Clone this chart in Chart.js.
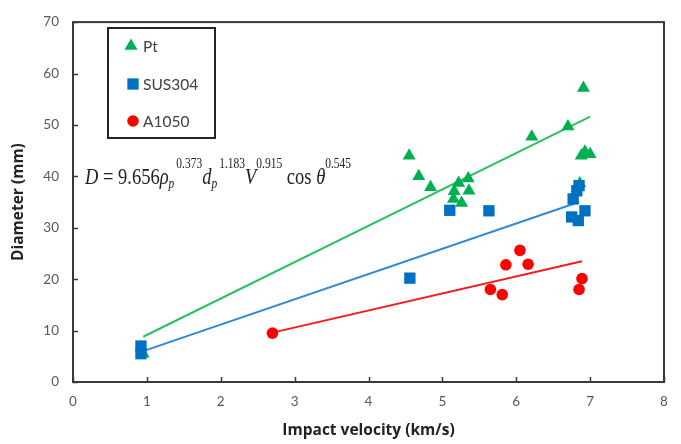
<!DOCTYPE html>
<html>
<head>
<meta charset="utf-8">
<script src="https://cdn.jsdelivr.net/npm/chart.js@4"></script>
<style>
  html, body { margin: 0; padding: 0; background: #fff; }
  #wrap { width: 681px; height: 444px; }
</style>
</head>
<body>
<div id="wrap"><canvas id="chart" width="681" height="444"></canvas></div>
<script>
// values
const ptX = [0.95, 4.55, 4.68, 4.84, 5.22, 5.16, 5.35, 5.36, 5.15, 5.26, 6.21, 6.70, 6.91, 6.88, 6.93, 7.00, 6.86];
const ptY = [5.5, 44.0, 40.0, 37.9, 38.7, 37.1, 39.6, 37.2, 35.6, 34.8, 47.7, 49.7, 57.2, 44.0, 44.8, 44.3, 38.6];

const susX = [0.92, 0.92, 4.56, 5.10, 5.63, 6.85, 6.82, 6.77, 6.93, 6.75, 6.84];
const susY = [7.0, 5.5, 20.2, 33.4, 33.3, 38.2, 37.2, 35.6, 33.3, 32.1, 31.4];

const alX = [2.70, 5.65, 5.81, 5.86, 6.05, 6.16, 6.89, 6.85];
const alY = [9.5, 18.0, 17.0, 22.8, 25.6, 22.9, 20.1, 18.0];

// linear trendline end points
const ptFitX = [0.95, 7.0];
const ptFitY = [8.8, 51.6];
const susFitX = [0.95, 6.85];
const susFitY = [6.0, 35.0];
const alFitX = [2.7, 6.89];
const alFitY = [9.6, 23.5];

const xTicks = [0, 1, 2, 3, 4, 5, 6, 7, 8];
const yTicks = [0, 10, 20, 30, 40, 50, 60, 70];

const GREEN = '#00B050';
const BLUE = '#0070C0';
const RED = '#FF0000';

const pts = (xs, ys) => xs.map((x, i) => ({ x: x, y: ys[i] }));

// legend box, formula, frame and inside tick marks
const extras = {
  id: 'extras',
  afterDatasetsDraw(chart) {
    const ctx = chart.ctx;
    const a = chart.chartArea;
    const xs = chart.scales.x;
    const ys = chart.scales.y;
    ctx.save();

    ctx.strokeStyle = '#3a3a3a';
    ctx.lineWidth = 2;
    ctx.strokeRect(a.left, a.top, a.right - a.left, a.bottom - a.top);

    ctx.lineWidth = 1.5;
    ctx.beginPath();
    xTicks.forEach((v) => {
      const px = Math.round(xs.getPixelForValue(v)) + 0.5;
      ctx.moveTo(px, a.bottom);
      ctx.lineTo(px, a.bottom - 5);
    });
    yTicks.forEach((v) => {
      const py = Math.round(ys.getPixelForValue(v)) + 0.5;
      ctx.moveTo(a.left, py);
      ctx.lineTo(a.left + 5, py);
    });
    ctx.stroke();

    // legend
    ctx.strokeStyle = '#222';
    ctx.lineWidth = 2;
    ctx.strokeRect(108, 28, 107, 110);
    const items = [
      { label: 'Pt', ds: 0, y: 46, x: 131 },
      { label: 'SUS304', ds: 1, y: 84, x: 133 },
      { label: 'A1050', ds: 2, y: 121, x: 133 },
    ];
    items.forEach((it) => {
      const d = chart.data.datasets[it.ds];
      ctx.fillStyle = d.backgroundColor;
      Chart.helpers.drawPoint(ctx, { pointStyle: d.pointStyle, radius: d.pointRadius, borderWidth: 0 }, it.x, it.y);
      ctx.fillStyle = '#404040';
      ctx.font = '15.5px Lato, "Liberation Sans", sans-serif';
      ctx.textBaseline = 'middle';
      ctx.textAlign = 'left';
      ctx.fillText(it.label, 143, it.y + 1);
    });

    // formula (drawn a bit taller than wide, like the picture)
    const big = '18.5px "Liberation Serif", serif';
    const bigI = 'italic 18.5px "Liberation Serif", serif';
    const sm = '11.5px "Liberation Serif", serif';
    const smI = 'italic 11.5px "Liberation Serif", serif';
    const parts = [
      ['D', bigI, 0], [' = ', big, 0], ['9.656', big, 0],
      ['\u03C1', bigI, 0], ['p', smI, 3, true], ['0.373', sm, -12],
      ['d', bigI, 0], ['p', smI, 3, true], ['1.183', sm, -12],
      ['V', bigI, 0], ['0.915', sm, -12],
      [' cos ', big, 0], ['\u03B8', bigI, 0], ['0.545', sm, -12],
    ];
    ctx.translate(0, 184);
    ctx.scale(1, 1.3);
    ctx.fillStyle = '#222';
    ctx.textBaseline = 'alphabetic';
    let cx = 85;
    parts.forEach((p) => {
      ctx.font = p[1];
      ctx.fillText(p[0], cx, p[2]);
      cx += ctx.measureText(p[0]).width + (p[3] ? 2 : 0);
    });
    ctx.restore();
  }
};

new Chart(document.getElementById('chart'), {
  type: 'scatter',
  data: {
    datasets: [
      { label: 'Pt', data: pts(ptX, ptY), pointStyle: 'triangle', pointRadius: 7.5, pointHoverRadius: 7.5,
        backgroundColor: GREEN, borderWidth: 0, order: 1 },
      { label: 'SUS304', data: pts(susX, susY), pointStyle: 'rect', pointRadius: 8, pointHoverRadius: 8,
        backgroundColor: BLUE, borderWidth: 0, order: 0 },
      { label: 'A1050', data: pts(alX, alY), pointStyle: 'circle', pointRadius: 5.8, pointHoverRadius: 5.8,
        backgroundColor: RED, borderWidth: 0, order: 0 },
      { type: 'line', label: 'Pt fit', data: pts(ptFitX, ptFitY), showLine: true, pointRadius: 0,
        borderColor: '#2CC060', borderWidth: 2, order: 3 },
      { type: 'line', label: 'SUS304 fit', data: pts(susFitX, susFitY), showLine: true, pointRadius: 0,
        borderColor: '#2F8AD6', borderWidth: 2, order: 3 },
      { type: 'line', label: 'A1050 fit', data: pts(alFitX, alFitY), showLine: true, pointRadius: 0,
        borderColor: '#F41C1C', borderWidth: 2, order: 3 },
    ]
  },
  options: {
    responsive: false,
    animation: false,
    layout: { padding: { top: 14, right: 17, left: 0, bottom: 0 } },
    plugins: {
      legend: { display: false },
      tooltip: { enabled: false },
    },
    scales: {
      x: {
        type: 'linear',
        min: 0,
        max: 8,
        afterBuildTicks: (s) => { s.ticks = xTicks.map((v) => ({ value: v })); },
        afterFit: (s) => { s.height = 62; },
        grid: { display: false, drawTicks: false },
        border: { display: false },
        ticks: { color: '#595959', font: { family: 'Lato', size: 13.5 }, padding: 12 },
        title: { display: true, text: 'Impact velocity (km/s)', color: '#222',
          font: { family: '"Open Sans"', size: 15.5, weight: 'bold' }, padding: { top: 8 } },
      },
      y: {
        type: 'linear',
        min: 0,
        max: 70,
        afterBuildTicks: (s) => { s.ticks = yTicks.map((v) => ({ value: v })); },
        afterFit: (s) => { s.width = 73; },
        grid: { display: false, drawTicks: false },
        border: { display: false },
        ticks: { color: '#595959', font: { family: 'Lato', size: 13.5 }, padding: 14 },
        title: { display: true, text: 'Diameter (mm)', color: '#222',
          font: { family: '"Open Sans"', size: 15.5, weight: 'bold' }, padding: { top: 9 } },
      },
    },
  },
  plugins: [extras],
});
</script>
</body>
</html>
